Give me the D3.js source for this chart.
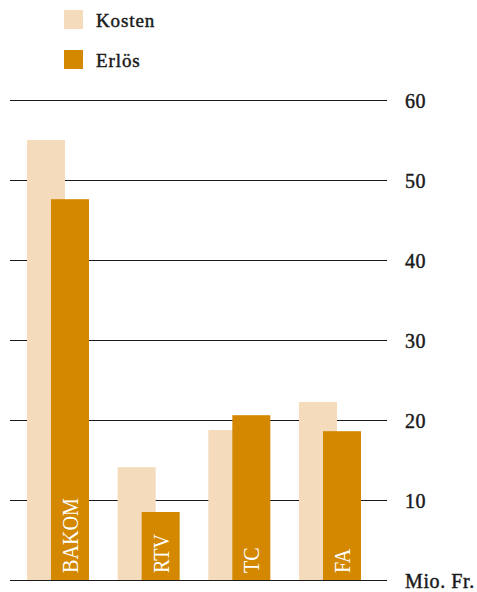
<!DOCTYPE html>
<html>
<head>
<meta charset="utf-8">
<script src="https://cdn.jsdelivr.net/npm/d3@7"></script>
<style>
  body { margin: 0; background: #fff; }
</style>
</head>
<body>
<div class="chart"></div>
<script>
// data (Mio. Fr.)
var categories = ["BAKOM", "RTV", "TC", "FA"];
var kosten = [55, 14.1, 18.75, 22.25];
var erloes = [47.6, 8.5, 20.6, 18.6];
var tickValues = [0, 10, 20, 30, 40, 50, 60];
var seriesNames = ["Kosten", "Erlös"];

var colors = { Kosten: "#f3dbbc", "Erlös": "#d38800" };
var serif = "'Liberation Serif', 'Times New Roman', serif";

var svgWidth = 477;
var svgHeight = 592;

var svg = d3.select(".chart")
  .append("svg")
  .attr("width", svgWidth)
  .attr("height", svgHeight);

// scales
var y = d3.scaleLinear()
  .domain([0, 60])
  .range([580, 100]);

var x = d3.scaleBand()
  .domain(categories)
  .range([27, 361])
  .paddingInner(0.316)
  .paddingOuter(0);

var barW = 38;
var offset = x.bandwidth() - barW;

// gridlines + labels on the right
var rightAxis = d3.axisRight(y)
  .tickValues(tickValues)
  .tickSize(-377)
  .tickPadding(18)
  .tickFormat(d => d === 0 ? "Mio. Fr." : d);

var axisG = svg.append("g")
  .attr("transform", "translate(387, 0)")
  .call(rightAxis);

axisG.select(".domain").remove();
axisG.selectAll(".tick line")
  .attr("stroke", "#1a1a1a")
  .attr("stroke-width", 1.1);
axisG.selectAll(".tick text")
  .style("font-family", serif)
  .style("font-size", "20px")
  .style("letter-spacing", "0.6px")
  .attr("fill", "#1a1a1a")
  .attr("stroke", "#1a1a1a")
  .attr("stroke-width", 0.45)
  .attr("dy", "0.38em");

// bars
var groups = svg.append("g")
  .selectAll("g")
  .data(categories)
  .enter()
  .append("g");

groups.append("rect")
  .attr("x", d => x(d))
  .attr("y", (d, i) => y(kosten[i]))
  .attr("width", barW)
  .attr("height", (d, i) => y(0) - y(kosten[i]))
  .attr("fill", colors.Kosten);

groups.append("rect")
  .attr("x", d => x(d) + offset)
  .attr("y", (d, i) => y(erloes[i]))
  .attr("width", barW)
  .attr("height", (d, i) => y(0) - y(erloes[i]))
  .attr("fill", colors["Erlös"]);

// category labels inside the Erlös bars
groups.append("text")
  .attr("transform", d => `translate(${x(d) + offset + barW / 2 + 8}, 573) rotate(-90) scale(0.84, 1)`)
  .attr("text-anchor", "start")
  .style("font-family", serif)
  .style("font-size", "24px")
  .attr("fill", "#fff")
  .text(d => d);

// legend
var legend = svg.append("g")
  .selectAll("g")
  .data(seriesNames)
  .enter()
  .append("g")
  .attr("transform", (d, i) => `translate(64, ${10 + i * 40})`);

legend.append("rect")
  .attr("width", 19)
  .attr("height", 19)
  .attr("fill", d => colors[d]);

legend.append("text")
  .attr("x", 32)
  .attr("y", 17)
  .style("font-family", serif)
  .style("font-size", "19px")
  .style("letter-spacing", "0.9px")
  .attr("fill", "#1a1a1a")
  .attr("stroke", "#1a1a1a")
  .attr("stroke-width", 0.45)
  .text(d => d);
</script>
</body>
</html>
